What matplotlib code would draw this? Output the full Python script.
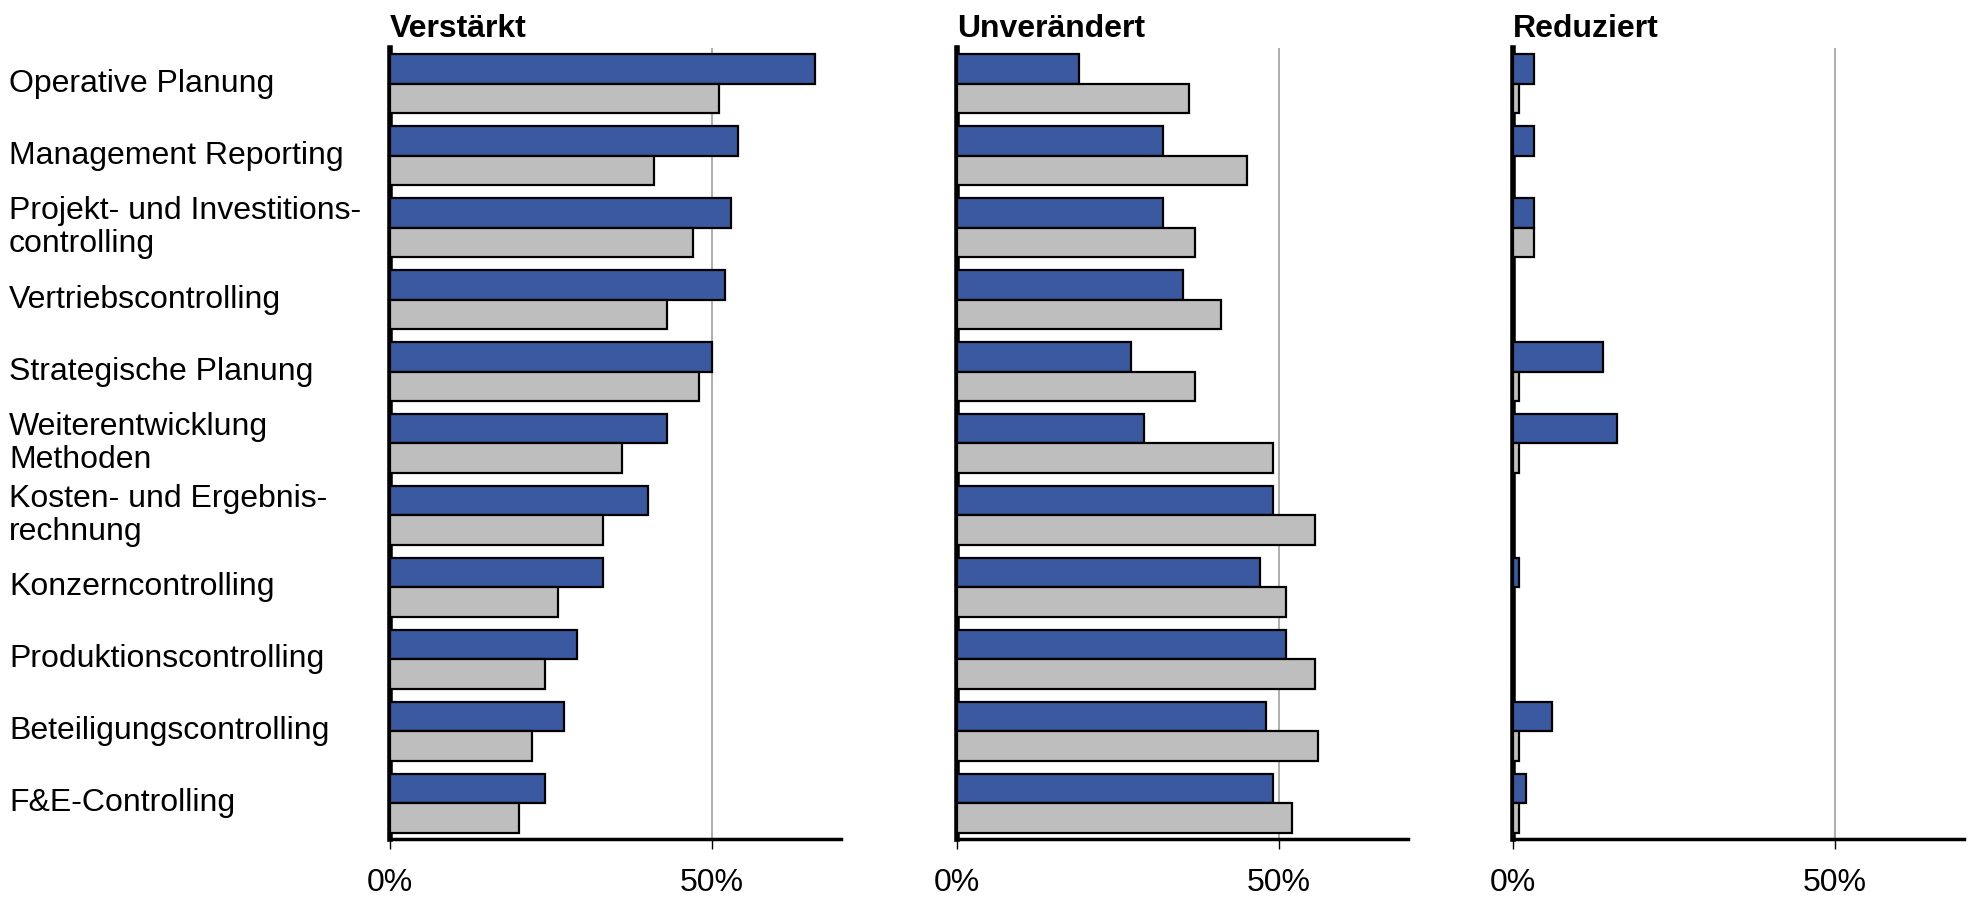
import numpy as np
import matplotlib.pyplot as plt
from matplotlib.transforms import blended_transform_factory

plt.rcParams['font.family'] = ['Liberation Sans', 'DejaVu Sans']

# Categories (top to bottom)
categories = [
    'Operative Planung',
    'Management Reporting',
    'Projekt- und Investitions-\ncontrolling',
    'Vertriebscontrolling',
    'Strategische Planung',
    'Weiterentwicklung\nMethoden',
    'Kosten- und Ergebnis-\nrechnung',
    'Konzerncontrolling',
    'Produktionscontrolling',
    'Beteiligungscontrolling',
    'F&E-Controlling',
]
panel_titles = ['Verstärkt', 'Unverändert', 'Reduziert']

# values in percent, blue = first series, grey = second series
verstaerkt_blue = [66, 54, 53, 52, 50, 43, 40, 33, 29, 27, 24]
verstaerkt_grey = [51, 41, 47, 43, 48, 36, 33, 26, 24, 22, 20]
unveraendert_blue = [19, 32, 32, 35, 27, 29, 49, 47, 51, 48, 49]
unveraendert_grey = [36, 45, 37, 41, 37, 49, 55.5, 51, 55.5, 56, 52]
reduziert_blue = [3.2, 3.2, 3.2, 0, 14, 16.2, 0, 1, 0, 6, 2]
reduziert_grey = [1, 0, 3.2, 0, 1, 1, 0, 0, 0, 1, 1]

blue = '#3B59A0'
grey = '#BEBEBE'

fig = plt.figure(figsize=(19.72, 8.99), dpi=100)

# panel geometry in pixels
lefts = [390, 957, 1513]
width_px = 451
bottom, top = 839, 48
y = np.arange(len(categories))
h = 0.41

series = [(verstaerkt_blue, verstaerkt_grey),
          (unveraendert_blue, unveraendert_grey),
          (reduziert_blue, reduziert_grey)]

axes = []
for i, (title, (b, g)) in enumerate(zip(panel_titles, series)):
    ax = fig.add_axes([lefts[i] / 1972, 1 - bottom / 899, width_px / 1972, (bottom - top) / 899])
    ax.barh(y - h / 2, b, height=h, color=blue, edgecolor='black', linewidth=1.6, zorder=3)
    ax.barh(y + h / 2, g, height=h, color=grey, edgecolor='black', linewidth=1.6, zorder=3)
    ax.axvline(50, color='#A8A8A8', linewidth=1.3, zorder=1)
    ax.set_xlim(0, 70)
    ax.set_ylim(10.5, -0.5)
    ax.set_yticks([])
    ax.set_xticks([0, 50])
    ax.set_xticklabels(['0%', '50%'], fontsize=23)
    ax.tick_params(axis='x', length=7.2, width=1, pad=14, color='black')
    for s in ['top', 'right']:
        ax.spines[s].set_visible(False)
    ax.spines['left'].set_linewidth(4)
    ax.spines['bottom'].set_linewidth(2.5)
    ax.set_title(title, loc='left', fontsize=23, fontweight='bold', pad=8, x=0.0)
    axes.append(ax)

trans = blended_transform_factory(fig.transFigure, axes[0].transData)
for yi, lab in zip(y, categories):
    axes[0].text(9 / 1972, yi, lab, transform=trans, ha='left', va='center',
                 fontsize=23, linespacing=1.15)

fig.savefig('out.png', dpi=100)
